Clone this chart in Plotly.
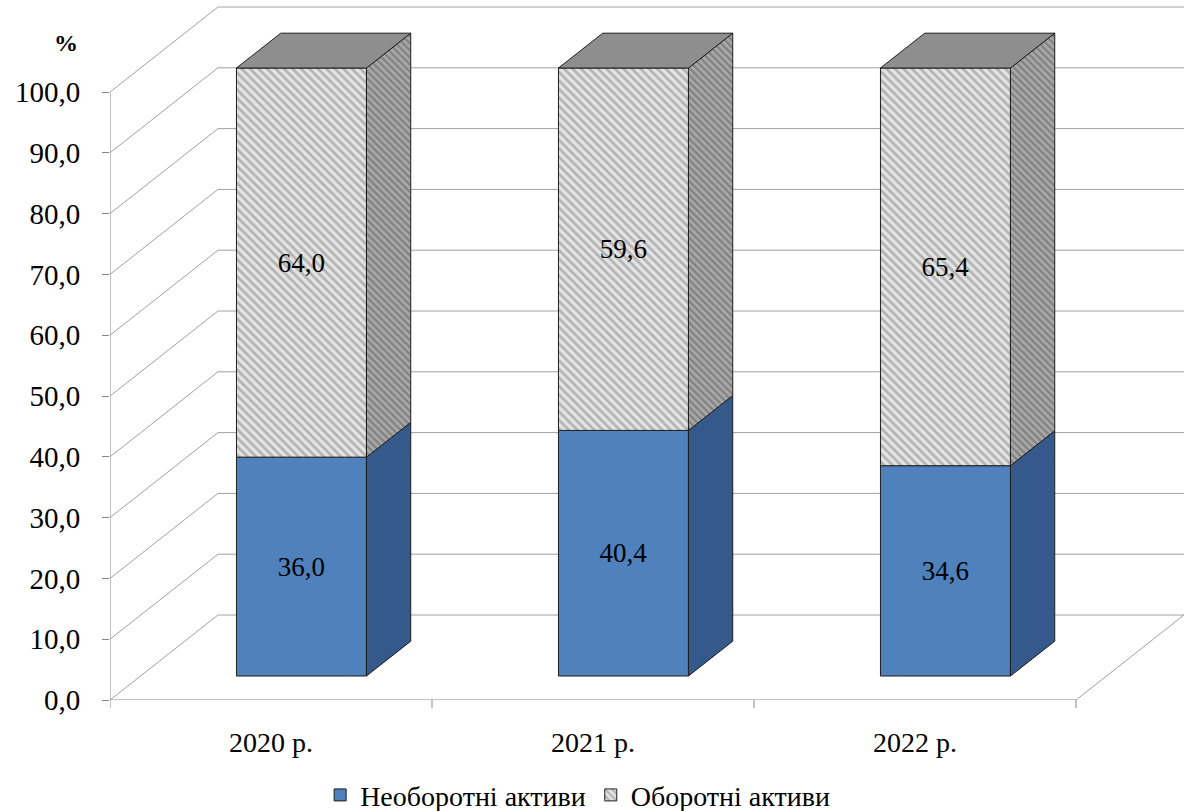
import plotly.graph_objects as go

# ---------------- data ----------------
years = ["2020 р.", "2021 р.", "2022 р."]
non_current = [36.0, 40.4, 34.6]     # Необоротні активи
current = [64.0, 59.6, 65.4]         # Оборотні активи
y_ticks = [0, 10, 20, 30, 40, 50, 60, 70, 80, 90, 100]
series_names = ["Необоротні активи", "Оборотні активи"]

# ---------------- geometry / style ----------------
PX_X = 322.0          # px per category
PX_Y = 6.08           # px per value unit
ML, MR, MT, MB = 110, 2, 5, 111
W, H = 1187, 811
plot_w = W - ML - MR
plot_h = H - MT - MB
x_range = [-0.5, -0.5 + plot_w / PX_X]
y_range = [0, plot_h / PX_Y]

KX = 108 / PX_X       # wall depth (x shift, data units)
KY = 85 / PX_Y        # wall depth (y shift, data units)
F0 = 0.282            # bar front face depth fraction
FD = 0.41             # bar depth fraction
BW = 130 / PX_X       # bar width
dx0, dy0 = F0 * KX, F0 * KY
dxb, dyb = FD * KX, FD * KY

FONT = "Liberation Serif"
BLUE = "#4F81BD"
BLUE_SIDE = "#34598A"
GRAY_BG = "#e4e4e4"
GRAY_FG = "#808080"
GRAY_SIDE_BG = "#a8a8a8"
GRAY_SIDE_FG = "#5a5a5a"
GRAY_TOP = "#8e8e8e"
EDGE = "#1e1e1e"
GRID = "#a0a0a0"

n = len(years)
xs = list(range(n))
x_front = [i + dx0 for i in xs]

fig = go.Figure()

# front faces (bars)
fig.add_trace(go.Bar(
    x=x_front, y=non_current, base=[dy0] * n, width=BW,
    name=series_names[0],
    marker=dict(color=BLUE, line=dict(color=EDGE, width=1)),
    texttemplate="%{y:.1f}", textposition="inside", insidetextanchor="middle",
    textfont=dict(family=FONT, size=27, color="black"),
    hoverinfo="skip",
))
fig.add_trace(go.Bar(
    x=x_front, y=current, base=[dy0 + v for v in non_current], width=BW,
    name=series_names[1],
    marker=dict(color=GRAY_BG, line=dict(color=EDGE, width=1),
                pattern=dict(shape="\\", fgcolor=GRAY_FG, bgcolor=GRAY_BG,
                             size=6, solidity=0.45)),
    texttemplate="%{y:.1f}", textposition="inside", insidetextanchor="middle",
    textfont=dict(family=FONT, size=27, color="black"),
    hoverinfo="skip",
))

# side and top faces
def side_poly(xr, b, v):
    return ([xr, xr + dxb, xr + dxb, xr, xr],
            [b, b + dyb, b + v + dyb, b + v, b])

for i in xs:
    xr = x_front[i] + BW / 2
    xl = x_front[i] - BW / 2
    b1 = dy0
    px, py = side_poly(xr, b1, non_current[i])
    fig.add_trace(go.Scatter(x=px, y=py, mode="lines", fill="toself",
                             fillcolor=BLUE_SIDE, line=dict(color=EDGE, width=1),
                             showlegend=False, hoverinfo="skip"))
    b2 = dy0 + non_current[i]
    px, py = side_poly(xr, b2, current[i])
    fig.add_trace(go.Scatter(x=px, y=py, mode="lines", fill="toself",
                             fillcolor=GRAY_SIDE_BG,
                             fillpattern=dict(shape="\\", fgcolor=GRAY_SIDE_FG,
                                              bgcolor=GRAY_SIDE_BG, size=5, solidity=0.45),
                             line=dict(color=EDGE, width=1),
                             showlegend=False, hoverinfo="skip"))
    top = b2 + current[i]
    fig.add_trace(go.Scatter(x=[xl, xl + dxb, xr + dxb, xr, xl],
                             y=[top, top + dyb, top + dyb, top, top],
                             mode="lines", fill="toself", fillcolor=GRAY_TOP,
                             line=dict(color=EDGE, width=1),
                             showlegend=False, hoverinfo="skip"))

# walls / grid as shapes below traces
shapes = []
x_left = -0.5
x_right = n - 0.5
for t in y_ticks:
    shapes.append(dict(type="line", xref="x", yref="y", layer="below",
                       x0=x_left, y0=t, x1=x_left + KX, y1=t + KY,
                       line=dict(color=GRID, width=1)))
    shapes.append(dict(type="line", xref="x", yref="y", layer="below",
                       x0=x_left + KX, y0=t + KY, x1=x_right + KX, y1=t + KY,
                       line=dict(color=GRID, width=1)))
# floor right edge
shapes.append(dict(type="line", xref="x", yref="y", layer="below",
                   x0=x_right, y0=0, x1=x_right + KX, y1=KY,
                   line=dict(color=GRID, width=1)))
# front axis lines
shapes.append(dict(type="line", xref="x", yref="y", layer="below",
                   x0=x_left, y0=0, x1=x_right, y1=0,
                   line=dict(color="#868686", width=1)))
shapes.append(dict(type="line", xref="x", yref="y", layer="below",
                   x0=x_left, y0=0, x1=x_left, y1=y_ticks[-1],
                   line=dict(color="#868686", width=1)))
# category boundary ticks
for k in range(n + 1):
    xb = x_left + k
    shapes.append(dict(type="line", xref="x", yref="paper",
                       x0=xb, y0=0, x1=xb, y1=-8 / plot_h,
                       line=dict(color="#868686", width=1)))

fig.update_layout(
    width=W, height=H,
    margin=dict(l=ML, r=MR, t=MT, b=MB, autoexpand=False),
    paper_bgcolor="white", plot_bgcolor="white",
    barmode="overlay",
    separators=", ",
    shapes=shapes,
    font=dict(family=FONT, size=28, color="black"),
    legend=dict(orientation="h", x=0.435, xanchor="center", y=-0.137, yanchor="middle",
                font=dict(family=FONT, size=28, color="black"),
                itemwidth=30, bgcolor="rgba(0,0,0,0)"),
    annotations=[dict(text="<b>%</b>", xref="x", yref="y", x=x_left, y=108.1,
                      xshift=-44, showarrow=False,
                      font=dict(family=FONT, size=24, color="black"))],
)
fig.update_xaxes(range=x_range, tickvals=xs, ticktext=years, ticks="",
                 showgrid=False, zeroline=False, showline=False,
                 automargin=False, ticklabelstandoff=23,
                 tickfont=dict(family=FONT, size=28, color="black"))
fig.update_yaxes(range=y_range, tickvals=y_ticks, tickformat=".1f",
                 ticks="outside", ticklen=7, tickcolor="#868686",
                 showgrid=False, zeroline=False, showline=False,
                 automargin=False, ticklabelstandoff=16,
                 tickfont=dict(family=FONT, size=29, color="black"))

fig.write_html("out.html")
